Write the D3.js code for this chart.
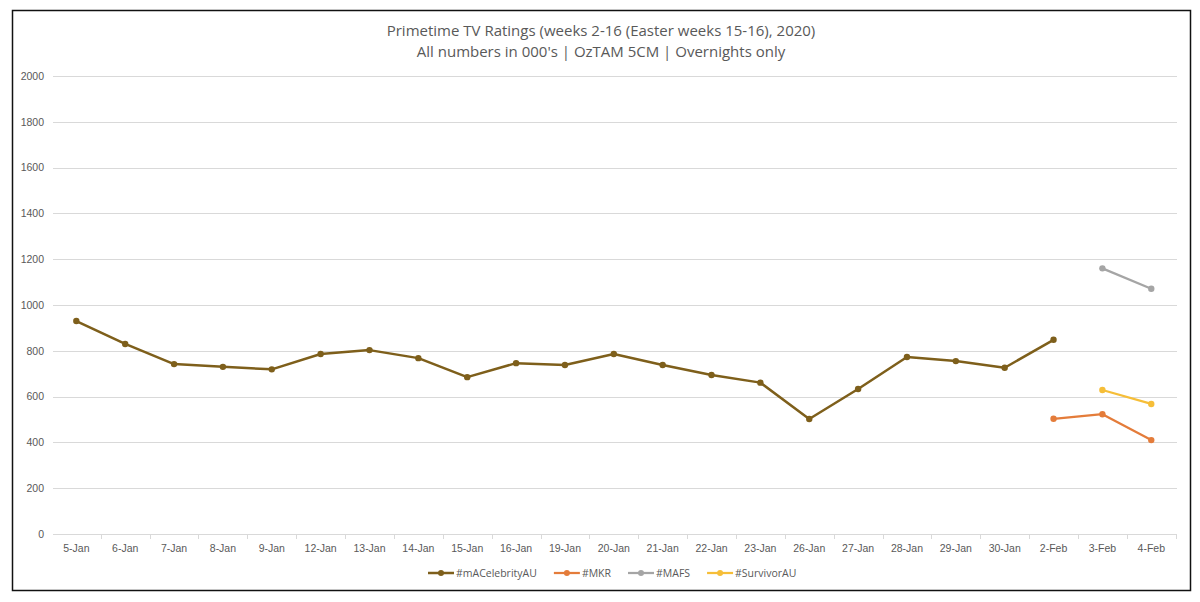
<!DOCTYPE html>
<html>
<head>
<meta charset="utf-8">
<script src="https://cdn.jsdelivr.net/npm/d3@7"></script>
<style>
  html, body { margin: 0; padding: 0; background: #fff; }
  svg { display: block; font-family: "Open Sans", "Liberation Sans", sans-serif; }
</style>
</head>
<body>
<svg id="chart" width="1200" height="602"></svg>
<script>
'use strict';

// Données (en milliers)
const days = ['5-Jan', '6-Jan', '7-Jan', '8-Jan', '9-Jan', '12-Jan', '13-Jan', '14-Jan', '15-Jan', '16-Jan',
  '19-Jan', '20-Jan', '21-Jan', '22-Jan', '23-Jan', '26-Jan', '27-Jan', '28-Jan', '29-Jan', '30-Jan',
  '2-Feb', '3-Feb', '4-Feb'];

const celebrity = [930, 830, 742, 730, 719, 786, 803, 768, 685, 746, 738, 786, 738, 694, 661, 502, 633, 773, 755, 726, 848, null, null];
const mkr       = [null, null, null, null, null, null, null, null, null, null, null, null, null, null, null, null, null, null, null, null, 503, 523, 410];
const mafs      = [null, null, null, null, null, null, null, null, null, null, null, null, null, null, null, null, null, null, null, null, null, 1160, 1071];
const survivor  = [null, null, null, null, null, null, null, null, null, null, null, null, null, null, null, null, null, null, null, null, null, 629, 568];

const yTicks = [0, 200, 400, 600, 800, 1000, 1200, 1400, 1600, 1800, 2000];

const series = [
  { name: '#mACelebrityAU', values: celebrity, color: '#7E5F1B', width: 2.5 },
  { name: '#MKR',           values: mkr,       color: '#E47C3A', width: 2.25 },
  { name: '#MAFS',          values: mafs,      color: '#A5A5A5', width: 2.25 },
  { name: '#SurvivorAU',    values: survivor,  color: '#F6BE38', width: 2.25 }
];

const svg = d3.select('#chart');
const textColor = '#595959';

// Cadre du graphique
svg.append('rect')
  .attr('x', 12.5).attr('y', 10.5)
  .attr('width', 1178).attr('height', 580)
  .attr('fill', '#fff').attr('stroke', '#111').attr('stroke-width', 1.5);

// Titre
svg.append('text')
  .attr('x', 601).attr('y', 36)
  .attr('text-anchor', 'middle').attr('fill', textColor)
  .style('font-size', '15px')
  .text("Primetime TV Ratings (weeks 2-16 (Easter weeks 15-16), 2020)");
svg.append('text')
  .attr('x', 601).attr('y', 57)
  .attr('text-anchor', 'middle').attr('fill', textColor)
  .style('font-size', '15px')
  .text("All numbers in 000's | OzTAM 5CM | Overnights only");

// Échelles
const x = d3.scaleBand().domain(days).range([51.9, 1175.7]);
const cx = d => x(d) + x.bandwidth() / 2;
const y = d3.scaleLinear().domain([0, 2000]).range([534, 76]);

// Grille horizontale
svg.append('g')
  .selectAll('line')
  .data(yTicks.filter(t => t > 0))
  .join('line')
  .attr('x1', 53).attr('x2', 1177)
  .attr('y1', d => Math.round(y(d)) + 0.5).attr('y2', d => Math.round(y(d)) + 0.5)
  .attr('stroke', '#d9d9d9').attr('stroke-width', 1);

// Axe Y (étiquettes seulement)
const yAxis = svg.append('g')
  .attr('transform', 'translate(46,0)')
  .call(d3.axisLeft(y).tickValues(yTicks).tickFormat(d3.format('d')).tickSize(0).tickPadding(2));
yAxis.select('.domain').remove();
yAxis.selectAll('text').attr('fill', textColor).style('font-size', '10.5px');

// Axe X
const xAxis = svg.append('g')
  .attr('transform', `translate(0,${Math.round(y(0)) + 0.5})`)
  .call(d3.axisBottom(x).tickSize(0).tickPadding(10));
xAxis.select('.domain').attr('stroke', '#d9d9d9').attr('d', 'M53,0H1177');
xAxis.selectAll('text').attr('fill', textColor).style('font-size', '10.5px');

// Petites graduations aux limites des catégories
svg.append('g')
  .selectAll('line')
  .data(days.map(d => x(d)).concat([x(days[days.length - 1]) + x.bandwidth()]).slice(1))
  .join('line')
  .attr('x1', d => Math.round(d) + 0.5).attr('x2', d => Math.round(d) + 0.5)
  .attr('y1', Math.round(y(0))).attr('y2', Math.round(y(0)) + 5)
  .attr('stroke', '#d9d9d9');

// Lignes et marqueurs
const line = d3.line()
  .defined(d => d.v !== null)
  .x(d => cx(d.day))
  .y(d => y(d.v));

series.forEach(s => {
  const pts = days.map((day, i) => ({ day, v: s.values[i] }));
  svg.append('path')
    .datum(pts)
    .attr('fill', 'none')
    .attr('stroke', s.color)
    .attr('stroke-width', s.width)
    .attr('stroke-linejoin', 'round')
    .attr('d', line);
  svg.append('g')
    .selectAll('circle')
    .data(pts.filter(p => p.v !== null))
    .join('circle')
    .attr('cx', p => cx(p.day))
    .attr('cy', p => y(p.v))
    .attr('r', 3.2)
    .attr('fill', s.color);
});

// Légende
const legend = svg.append('g').attr('transform', 'translate(0,573)');
let lx = 428;
series.forEach(s => {
  const item = legend.append('g').attr('transform', `translate(${lx},0)`);
  item.append('line').attr('x1', 0).attr('x2', 26).attr('y1', 0).attr('y2', 0)
    .attr('stroke', s.color).attr('stroke-width', s.width);
  item.append('circle').attr('cx', 13).attr('cy', 0).attr('r', 3).attr('fill', s.color);
  const t = item.append('text').attr('x', 28).attr('y', 3.5)
    .attr('fill', textColor).style('font-size', '10.5px').text(s.name);
  lx += 28 + t.node().getComputedTextLength() + 17;
});
</script>
</body>
</html>
